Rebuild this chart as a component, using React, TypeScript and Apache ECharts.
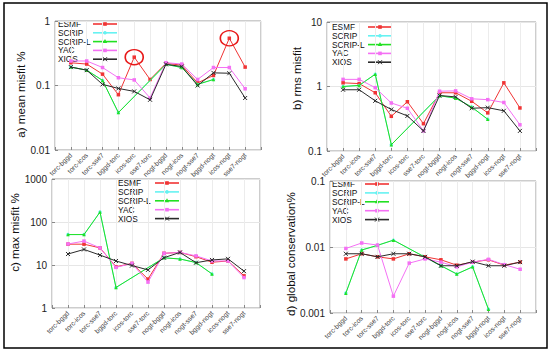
import React, { useEffect, useRef } from 'react';
import * as echarts from 'echarts';

const categories = ['torc-bggd', 'torc-icos', 'torc-sse7', 'bggd-torc', 'icos-torc', 'sse7-torc', 'nogt-bggd', 'nogt-icos', 'nogt-sse7', 'bggd-nogt', 'icos-nogt', 'sse7-nogt'];

// a) mean misfit %
const esmfA = [0.225, 0.215, 0.15, 0.072, 0.275, 0.124, 0.22, 0.207, 0.11, 0.143, 0.54, 0.193];
const scripLA = [0.193, 0.173, 0.12, 0.038, null, null, 0.213, 0.19, 0.104, 0.124, null, null];
const scripA = [0.193, 0.173, 0.12, 0.038, null, null, 0.213, 0.19, 0.104, 0.124, null, null];
const yacA = [0.24, 0.24, 0.19, 0.132, 0.122, 0.064, 0.226, 0.215, 0.124, 0.19, 0.19, 0.089];
const xiosA = [0.193, 0.173, 0.104, 0.09, 0.081, 0.06, 0.213, 0.197, 0.1, 0.157, 0.155, 0.064];

// b) rms misfit
const esmfB = [1.14, 1.11, 0.8, 0.345, 0.58, 0.265, 0.8, 0.8, 0.59, 0.39, 1.14, 0.465];
const scripLB = [1.0, 1.04, 1.55, 0.125, null, null, 0.72, 0.66, 0.48, 0.31, null, null];
const scripB = [1.0, 1.04, 1.55, 0.125, null, null, 0.72, 0.66, 0.48, 0.31, null, null];
const yacB = [1.29, 1.29, 0.96, 0.555, 0.46, 0.205, 0.845, 0.855, 0.645, 0.625, 0.565, 0.255];
const xiosB = [0.89, 0.89, 0.6, 0.44, 0.35, 0.205, 0.725, 0.69, 0.46, 0.47, 0.42, 0.205];

// c) max misfit %
const esmfC = [30.5, 30.5, 25, 9.1, 10.9, 4.7, 18.7, 19.6, 15.6, 11.6, 12.4, 5.6];
const scripLC = [51, 51, 170, 3, null, null, 14.7, 13.8, 11.4, 6.2, null, null];
const scripC = [51, 51, 170, 3, null, null, 14.7, 13.8, 11.4, 6.2, null, null];
const yacC = [30.8, 36, 25, 8.8, 10.9, 4.0, 18.7, 19.6, 16.3, 12.4, 12.4, 5.1];
const xiosC = [18, 23, 17, 12.4, 9.7, 7.7, 14.8, 19.6, 11.3, 13.1, 13.9, 7.2];

// d) global conservation %
const esmfD = [0.0066, 0.0079, 0.0071, 0.0066, 0.0079, 0.0071, 0.0064, 0.0053, 0.0059, 0.0064, 0.0053, 0.0059];
const scripLD = [0.002, 0.009, 0.0106, 0.0127, null, null, 0.0052, 0.0039, 0.005, 0.00114, null, null];
const scripD = [0.002, 0.009, 0.0106, 0.0127, null, null, 0.0052, 0.0039, 0.005, 0.00114, null, null];
const yacD = [0.0095, 0.0115, 0.0107, 0.0018, 0.0057, 0.0066, 0.0059, 0.005, 0.0059, 0.0065, 0.0054, 0.0046];
const xiosD = [0.0079, 0.0079, 0.0071, 0.0079, 0.0079, 0.0071, 0.0052, 0.0052, 0.006, 0.0052, 0.0052, 0.0059];

const seriesNames = ['ESMF', 'SCRIP', 'SCRIP-L', 'YAC', 'XIOS'];
const seriesColors = ['#f03434', '#66f2f2', '#22e022', '#f470f4', '#2a2a2a'];
const seriesSymbols = ['rect', 'circle', 'triangle', 'rect', 'path://M0,0L10,10M10,0L0,10'];

const FONT = '"Liberation Sans", Arial, Helvetica, sans-serif';

const panels = [
  { name: 'a) mean misfit %', min: 0.01, max: 1, grid: { left: 55, top: 21, width: 206, height: 129 }, nameGap: 25, namePad: [0, 18, 0, 0], data: [esmfA, scripA, scripLA, yacA, xiosA], legend: { x: 58, y: 24, lx: 93, step: 8.8 } },
  { name: 'b) rms misfit', min: 0.1, max: 10, grid: { left: 327, top: 22, width: 209, height: 129 }, nameGap: 25, namePad: [0, 0, 0, 16], data: [esmfB, scripB, scripLB, yacB, xiosB], legend: { x: 332, y: 27, lx: 368, step: 8.8 } },
  { name: 'c) max misfit %', min: 1, max: 1000, grid: { left: 52, top: 179, width: 208, height: 129 }, nameGap: 27, namePad: [0, 0, 0, 22], data: [esmfC, scripC, scripLC, yacC, xiosC], legend: { x: 118, y: 183, lx: 155, step: 8.9 } },
  { name: 'd) global conservation%', min: 0.001, max: 0.1, grid: { left: 330, top: 181, width: 206, height: 132 }, nameGap: 31, namePad: [0, 14, 0, 0], data: [esmfD, scripD, scripLD, yacD, xiosD], legend: { x: 332, y: 184, lx: 365, step: 8.9 } },
];

const axisCats = ['', ...categories, ''];
const pad = (arr: (number | null)[]) => [null, ...arr, null];

function legendGraphic(lg: { x: number; y: number; lx: number; step: number }) {
  const children: any[] = [];
  seriesNames.forEach((n, i) => {
    const y = lg.y + i * lg.step;
    children.push({ type: 'text', x: lg.x, y, style: { text: n, fill: '#111', fontSize: 8.3, fontFamily: FONT, verticalAlign: 'middle', align: 'left' } });
    children.push({ type: 'line', shape: { x1: lg.lx, y1: y, x2: lg.lx + 24, y2: y }, style: { stroke: seriesColors[i], lineWidth: 1.6 } });
    const cx = lg.lx + 12;
    if (i === 4) {
      children.push({ type: 'line', shape: { x1: cx - 2, y1: y - 2, x2: cx + 2, y2: y + 2 }, style: { stroke: seriesColors[i], lineWidth: 1 } });
      children.push({ type: 'line', shape: { x1: cx - 2, y1: y + 2, x2: cx + 2, y2: y - 2 }, style: { stroke: seriesColors[i], lineWidth: 1 } });
    } else if (i === 2) {
      children.push({ type: 'polygon', shape: { points: [[cx, y - 2.5], [cx - 2.2, y + 1.5], [cx + 2.2, y + 1.5]] }, style: { fill: seriesColors[i] } });
    } else if (i === 1) {
      children.push({ type: 'circle', shape: { cx, cy: y, r: 1.8 }, style: { fill: seriesColors[i] } });
    } else {
      children.push({ type: 'rect', shape: { x: cx - 1.8, y: y - 1.8, width: 3.6, height: 3.6 }, style: { fill: seriesColors[i] } });
    }
  });
  return { type: 'group', children };
}

export default function App() {
  const ref = useRef<HTMLDivElement>(null);
  useEffect(() => {
    if (!ref.current) return;
    const chart = echarts.init(ref.current, undefined, { renderer: 'svg' });
    const grid: any[] = [];
    const xAxis: any[] = [];
    const yAxis: any[] = [];
    const series: any[] = [];
    panels.forEach((p, pi) => {
      grid.push({ ...p.grid, show: true, borderColor: '#9a9a9a', borderWidth: 1, backgroundColor: 'transparent' });
      xAxis.push({
        type: 'category', gridIndex: pi, data: axisCats, boundaryGap: false,
        axisLine: { show: false },
        axisTick: { show: true, inside: true, length: 3, lineStyle: { color: '#888' } },
        axisLabel: { rotate: 45, interval: 0, fontSize: 6.8, color: '#444', margin: 4, fontFamily: FONT },
        splitLine: { show: true, lineStyle: { color: '#ececec', width: 1 } },
      });
      yAxis.push({
        type: 'log', logBase: 10, gridIndex: pi, min: p.min, max: p.max,
        name: p.name, nameLocation: 'middle', nameGap: p.nameGap,
        nameTextStyle: { fontSize: 11.6, color: '#111', fontFamily: FONT, padding: p.namePad },
        axisLine: { show: false },
        axisTick: { show: true, inside: true, length: 3, lineStyle: { color: '#888' } },
        minorTick: { show: false },
        axisLabel: { fontSize: 10, color: '#222', margin: 5, fontFamily: FONT, formatter: (v: number) => String(+Number(v).toPrecision(1)) },
        splitLine: { show: true, lineStyle: { color: '#e6e6e6', width: 1 } },
      });
      p.data.forEach((vals, si) => {
        const s: any = {
          type: 'line', name: seriesNames[si], xAxisIndex: pi, yAxisIndex: pi,
          data: pad(vals), connectNulls: true,
          symbol: seriesSymbols[si], symbolSize: si === 4 ? 4 : 3.5,
          lineStyle: { color: seriesColors[si], width: 1 },
          itemStyle: si === 4 ? { color: seriesColors[si], borderColor: seriesColors[si], borderWidth: 1 } : { color: seriesColors[si] },
          emphasis: { disabled: true },
          z: 2 + si,
        };
        if (pi === 0 && si === 0) {
          s.markPoint = {
            symbol: 'circle', symbolSize: [18, 15], silent: true,
            itemStyle: { color: 'transparent', borderColor: '#e81818', borderWidth: 1.5 },
            label: { show: false },
            data: [4, 10].map((k) => ({ coord: [categories[k], vals[k]] })),
          };
        }
        series.push(s);
      });
    });
    chart.setOption({
      animation: false,
      backgroundColor: '#ffffff',
      textStyle: { fontFamily: FONT },
      grid, xAxis, yAxis, series,
      graphic: [
        { type: 'rect', shape: { x: 4, y: 3, width: 543, height: 345 }, style: { fill: 'none', stroke: '#000', lineWidth: 1.5 }, z: 100 },
        ...panels.map((p) => legendGraphic(p.legend)),
      ],
    });
    return () => chart.dispose();
  }, []);
  return <div ref={ref} style={{ position: 'absolute', left: 0, top: 0, width: 550, height: 353, background: '#fff' }} />;
}
